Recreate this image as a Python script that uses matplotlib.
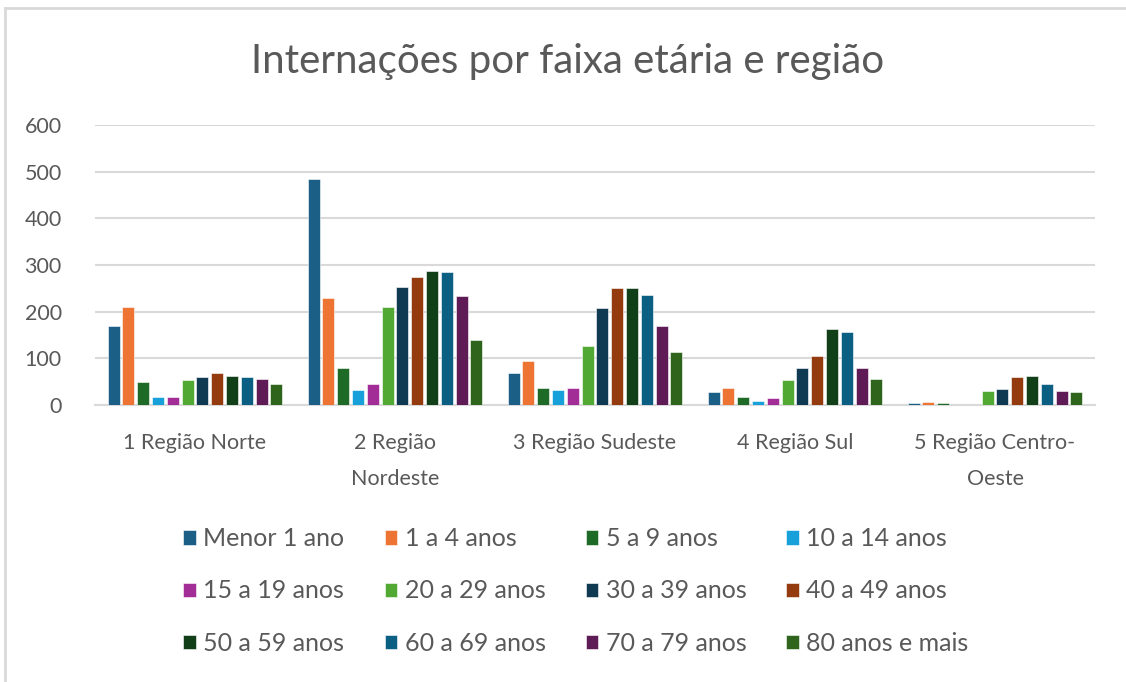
import numpy as np
import matplotlib
matplotlib.use("Agg")
import matplotlib.pyplot as plt
from matplotlib.lines import Line2D

plt.rcParams["font.family"] = ["Lato", "DejaVu Sans"]

regioes = ["1 Região Norte", "2 Região\nNordeste", "3 Região Sudeste",
           "4 Região Sul", "5 Região Centro-\nOeste"]
faixas = ["Menor 1 ano", "1 a 4 anos", "5 a 9 anos", "10 a 14 anos",
          "15 a 19 anos", "20 a 29 anos", "30 a 39 anos", "40 a 49 anos",
          "50 a 59 anos", "60 a 69 anos", "70 a 79 anos", "80 anos e mais"]

# internações por região, na ordem das faixas acima
norte = [170, 211, 50, 18, 18, 53, 59, 69, 62, 59, 56, 46]
nordeste = [484, 230, 80, 33, 46, 211, 252, 275, 288, 284, 233, 139]
sudeste = [69, 95, 36, 33, 36, 127, 208, 250, 250, 236, 169, 114]
sul = [28, 37, 17, 8, 14, 53, 79, 105, 163, 157, 79, 56]
centro_oeste = [4, 7, 4, 0, 0, 30, 34, 60, 63, 44, 30, 27]

cores = ["#1B5E86", "#ED7433", "#1D6B27", "#17A0DA", "#A22D97", "#51A933",
         "#0F3A52", "#933B0F", "#113F17", "#0B5F82", "#5E1B55", "#2F641D"]

valores = np.array([norte, nordeste, sudeste, sul, centro_oeste])
n_reg, n_fx = valores.shape

fig = plt.figure(figsize=(11.26, 6.82), dpi=100)
ax = fig.add_axes([95 / 1126, 1 - 405 / 682, 1000 / 1126, 280 / 682])

x = np.arange(n_reg)
passo = 0.074
larg = 0.06
barras = []
for i in range(n_fx):
    pos = x - (n_fx - 1) / 2 * passo + i * passo
    b = ax.bar(pos, valores[:, i], width=larg, color=cores[i],
               edgecolor="white", linewidth=0.4, label=faixas[i], zorder=3)
    barras.append(b)

ax.set_xlim(-0.5, n_reg - 0.5)
ax.set_ylim(0, 600)
ax.set_yticks(range(0, 601, 100))
ax.set_xticks(x)
ax.set_xticklabels(regioes, linespacing=2.0)
ax.tick_params(axis="both", length=0, labelsize=15.5, colors="#595959")
ax.tick_params(axis="y", pad=24)
ax.tick_params(axis="x", pad=20)
ax.grid(axis="y", color="#d9d9d9", linewidth=1.5, zorder=0)
for s in ["top", "right", "left"]:
    ax.spines[s].set_visible(False)
ax.spines["bottom"].set_color("#d9d9d9")
ax.spines["bottom"].set_linewidth(1.5)

fig.text(568 / 1126, 1 - 62 / 682, "Internações por faixa etária e região",
         ha="center", va="center", fontsize=29, color="#595959")

# legenda preenchida por linhas (4 colunas)
ordem = [0, 4, 8, 1, 5, 9, 2, 6, 10, 3, 7, 11]
fig.legend([barras[k] for k in ordem], [faixas[k] for k in ordem],
           loc="center", bbox_to_anchor=(576 / 1126, 1 - 591 / 682),
           ncol=4, frameon=False, fontsize=18, labelcolor="#595959",
           handlelength=0.5, handleheight=0.5, handletextpad=0.3,
           columnspacing=1.6, labelspacing=1.17)

# moldura do gráfico (só esquerda e topo aparecem no recorte)
fig.add_artist(Line2D([4.5 / 1126, 4.5 / 1126], [0, 1 - 8 / 682],
                      color="#d9d9d9", linewidth=2))
fig.add_artist(Line2D([4.5 / 1126, 1], [1 - 8 / 682, 1 - 8 / 682],
                      color="#d9d9d9", linewidth=2))

fig.savefig("out.png", dpi=100)
